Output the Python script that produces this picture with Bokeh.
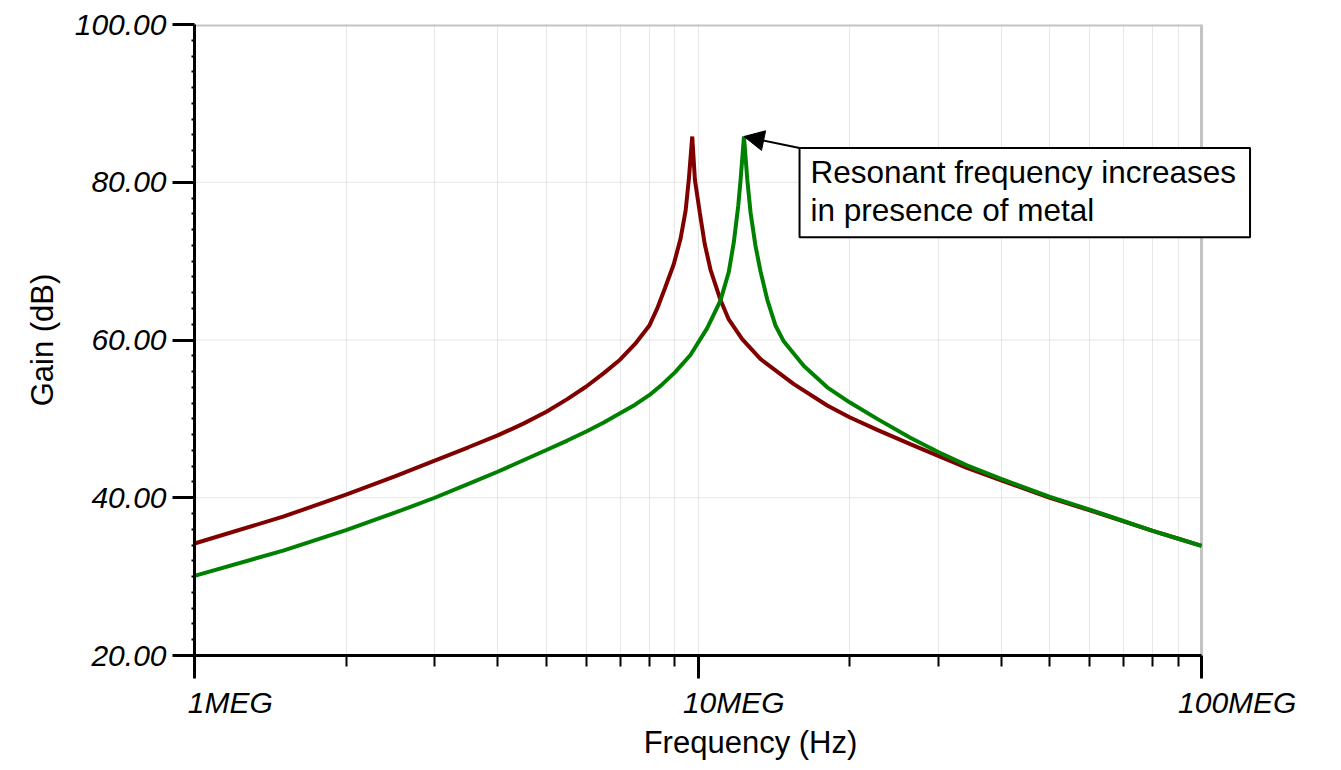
from bokeh.plotting import figure
from bokeh.models import (FixedTicker, PrintfTickFormatter, LogAxis, LogScale,
                          Range1d, Label, Arrow, NormalHead, CustomJSTickFormatter)
from bokeh.embed import file_html
from bokeh.resources import INLINE

# ---- data (frequency in MHz, gain in dB) ----
freq_red = [1.0, 1.5, 2.0, 2.5, 3.0, 3.5, 4.0, 4.5, 5.0, 5.5, 6.0, 6.5, 7.0, 7.5, 8.0, 8.3, 8.6,
            8.95, 9.23, 9.45, 9.59, 9.74, 9.86, 10.08, 10.31, 10.59, 11.08, 11.51, 12.24, 13.3,
            15.5, 18.06, 20.0, 22.7, 26.4, 30.0, 34.2, 40.0, 50.0, 60.0, 70.0, 80.0, 90.0, 100.0]
gain_red = [34.2, 37.6, 40.4, 42.7, 44.7, 46.4, 47.9, 49.4, 50.9, 52.5, 54.1, 55.8, 57.5, 59.5, 61.8, 64.0, 66.6,
            69.6, 72.8, 76.4, 80.4, 85.8, 80.3, 76.2, 72.2, 68.9, 65.1, 62.6, 60.1, 57.6,
            54.4, 51.7, 50.2, 48.6, 46.8, 45.3, 43.8, 42.2, 40.0, 38.4, 37.0, 35.8, 34.8, 33.9]

freq_grn = [1.0, 1.5, 2.0, 2.5, 3.0, 3.5, 4.0, 4.5, 5.0, 5.5, 6.0, 6.5, 7.0, 7.5, 8.0, 8.5, 9.0,
            9.66, 10.43, 11.08, 11.51, 11.78, 12.02, 12.15, 12.34, 12.53, 12.72, 13.01, 13.31,
            13.73, 14.26, 14.81, 16.23, 18.06, 20.0, 22.7, 26.4, 30.0, 34.2, 40.0, 50.0, 60.0,
            70.0, 80.0, 90.0, 100.0]
gain_grn = [30.1, 33.3, 35.9, 38.1, 40.0, 41.75, 43.3, 44.75, 46.05, 47.25, 48.4, 49.55, 50.7, 51.8, 53.0, 54.4, 55.9,
            58.1, 61.5, 65.0, 68.6, 72.4, 77.0, 80.3, 85.8, 80.3, 76.1, 71.9, 68.7,
            65.1, 61.8, 59.8, 56.7, 54.0, 52.1, 50.0, 47.6, 45.8, 44.1, 42.4, 40.1, 38.5,
            37.05, 35.8, 34.8, 33.9]

x_major = [1, 10, 100]
x_labels = ["1MEG", "10MEG", "100MEG"]
x_minor = [2, 3, 4, 5, 6, 7, 8, 9, 20, 30, 40, 50, 60, 70, 80, 90]
y_major = [20, 40, 60, 80, 100]
y_minor = [22, 24, 26, 28, 30, 32, 34, 36, 38, 42, 44, 46, 48, 50, 52, 54, 56, 58,
           62, 64, 66, 68, 70, 72, 74, 76, 78, 82, 84, 86, 88, 90, 92, 94, 96, 98]

note_text = "Resonant frequency increases\nin presence of metal"
note_pos = (15.91, 84.33)

FONT = "Liberation Sans"
PX_PER_DECADE = 503.5
EXTRA_RIGHT_PX = 105      # blank frame space right of 100MEG (room for the note box)
LABEL_SHIFT_PX = 35.75    # tick-label centres sit this far right of their tick

x_end = x_major[-1] * 10 ** (EXTRA_RIGHT_PX / PX_PER_DECADE)
k = 10 ** (LABEL_SHIFT_PX / PX_PER_DECADE)

p = figure(width=1333, height=762, x_axis_type="log", x_range=(x_major[0], x_end),
           y_range=(y_major[0], y_major[-1]),
           output_backend="svg", toolbar_location=None,
           min_border_left=194, min_border_right=27, min_border_top=24, min_border_bottom=105)
p.background_fill_color = "white"
p.border_fill_color = "white"
p.outline_line_color = None

# ticks / grids
xt = FixedTicker(ticks=x_major, minor_ticks=x_minor)
yt = FixedTicker(ticks=y_major, minor_ticks=y_minor)
p.xaxis.ticker = xt
p.xgrid.ticker = xt
p.yaxis.ticker = yt
p.ygrid.visible = False

p.xgrid.grid_line_color = "#cfcfcf"
p.xgrid.grid_line_dash = "1 1"
p.xgrid.minor_grid_line_color = "#cfcfcf"
p.xgrid.minor_grid_line_dash = "1 1"

# horizontal grid lines, limited to the 1MEG..100MEG span
p.segment(x0=x_major[0], x1=x_major[-1], y0=y_major[1:-1], y1=y_major[1:-1],
          line_color="#cfcfcf", line_dash="1 1", line_width=1)
# plot-area border (top and right) in grey
p.segment(x0=x_major[0], x1=x_major[-1], y0=y_major[-1], y1=y_major[-1],
          line_color="#c4c4c4", line_width=4)
p.segment(x0=x_major[-1], x1=x_major[-1], y0=y_major[0], y1=y_major[-1],
          line_color="#c4c4c4", line_width=3)

xa = p.xaxis[0]
xa.bounds = (x_major[0], x_major[-1])
xa.formatter = CustomJSTickFormatter(code="return ''")
xa.major_label_standoff = 0
xa.axis_line_width = 3
xa.axis_line_color = "black"
xa.major_tick_in = 0
xa.major_tick_out = 23
xa.major_tick_line_width = 3
xa.minor_tick_in = 0
xa.minor_tick_out = 11
xa.minor_tick_line_width = 2
xa.minor_tick_line_color = "black"

# tick-label axis (same log scale, shifted so the labels sit right of their tick)
p.extra_x_ranges = {"lab": Range1d(x_major[0] / k, x_end / k)}
p.extra_x_scales = {"lab": LogScale()}
lab = LogAxis(x_range_name="lab", ticker=FixedTicker(ticks=x_major),
              formatter=CustomJSTickFormatter(args=dict(vals=x_major, labs=x_labels),
                                              code="const i = vals.indexOf(tick); return i >= 0 ? labs[i] : ''"),
              axis_line_color=None, major_tick_line_color=None, minor_tick_line_color=None,
              major_tick_in=0, major_tick_out=0, minor_tick_in=0, minor_tick_out=0,
              major_label_standoff=7,
              major_label_text_font=FONT, major_label_text_font_style="italic",
              major_label_text_font_size="30px", major_label_text_color="black",
              axis_label="Frequency (Hz)", axis_label_text_font=FONT,
              axis_label_text_font_style="normal", axis_label_text_font_size="31px",
              axis_label_text_color="black", axis_label_standoff=3)
p.add_layout(lab, "below")

ya = p.yaxis[0]
ya.formatter = PrintfTickFormatter(format="%.2f")
ya.axis_line_width = 3
ya.axis_line_color = "black"
ya.major_tick_in = 0
ya.major_tick_out = 22
ya.major_tick_line_width = 3
ya.minor_tick_in = 0
ya.minor_tick_out = 3
ya.minor_tick_line_width = 2
ya.minor_tick_line_color = "black"
ya.major_label_standoff = 6
ya.major_label_text_font = FONT
ya.major_label_text_font_style = "italic"
ya.major_label_text_font_size = "30px"
ya.major_label_text_color = "black"
ya.axis_label = "Gain (dB)"
ya.axis_label_text_font = FONT
ya.axis_label_text_font_style = "normal"
ya.axis_label_text_font_size = "31px"
ya.axis_label_text_color = "black"
ya.axis_label_standoff = 12

# curves
p.line(freq_red, gain_red, line_color="#800000", line_width=4)
p.line(freq_grn, gain_grn, line_color="#008000", line_width=4)

# annotation
pk = gain_grn.index(max(gain_grn))
p.add_layout(Arrow(end=NormalHead(size=20, fill_color="black", line_color="black"),
                   x_start=note_pos[0], y_start=note_pos[1],
                   x_end=freq_grn[pk], y_end=gain_grn[pk], line_width=2, line_color="black"))
p.add_layout(Label(x=note_pos[0], y=note_pos[1], text=note_text, anchor="top_left",
                   text_font=FONT, text_font_size="31.5px", text_color="black",
                   text_line_height=1.06, padding=(11, 14, 6, 9),
                   background_fill_color="white", border_line_color="black",
                   border_line_width=2))

open("out.html", "w").write(file_html(p, INLINE))
